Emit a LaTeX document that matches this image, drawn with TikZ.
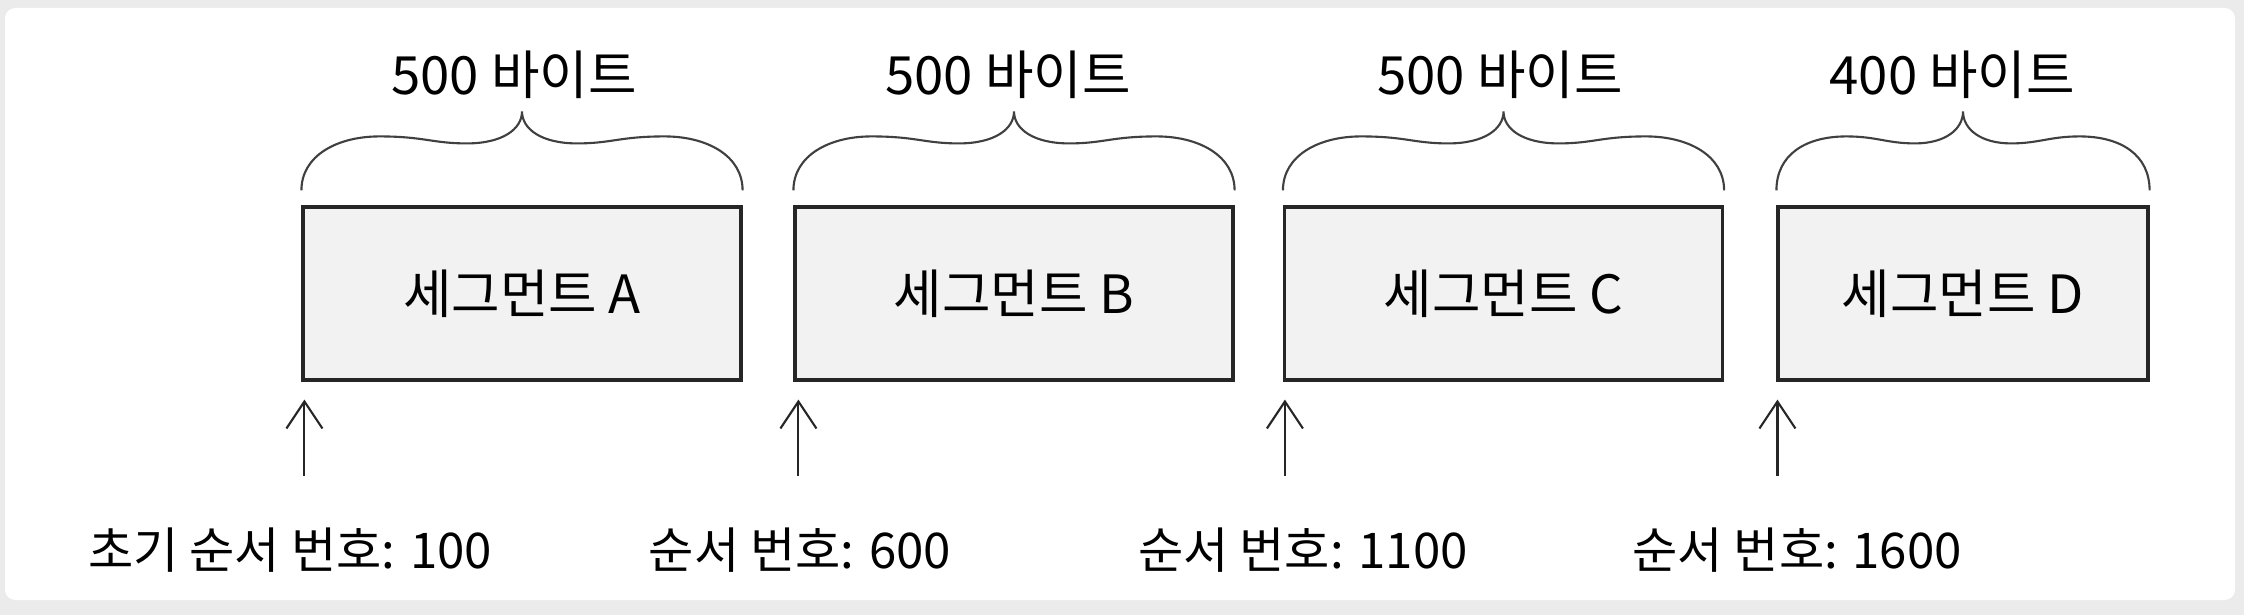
\documentclass[tikz,border=0pt]{standalone}
\usepackage{fontspec}
\setmainfont{Noto Sans CJK KR}
\usetikzlibrary{calc,arrows.meta}

\begin{document}
\begin{tikzpicture}[
  seg/.style={draw=black!85, line width=0.9pt, fill=black!5, minimum width=4.38cm, minimum height=1.73cm, inner sep=0pt, font=\fontsize{15}{18}\selectfont},
  bytes/.style={font=\fontsize{15}{18}\selectfont, inner sep=0pt},
  seqno/.style={font=\fontsize{14}{17}\selectfont, inner sep=0pt},
  span/.style={line width=0.6pt, black!75},
  seqarrow/.style={-{Straight Barb[length=2.7mm, width=3.6mm]}, line width=0.6pt, black!85}]
\useasboundingbox (0,0) rectangle (22.44,6.15);
\fill[black!8] (0,0) rectangle (22.44,6.15);
\fill[white, rounded corners=3pt] (0.05,0.15) rectangle (22.35,6.07);
% segments
\node[seg] (SA) at (5.22,3.215) {세그먼트 A};
\node[seg] (SB) at (10.14,3.215) {세그먼트 B};
\node[seg] (SC) at (15.035,3.215) {세그먼트 C};
\node[seg, minimum width=3.70cm] (SD) at (19.63,3.215) {세그먼트 D};
% sizes
\draw[span] ($(SA.north west)+(0,0.15)$) .. controls +(0,0.35) and +(-0.42,0) .. ($(SA.north west)+(0.78,0.69)$) .. controls +(0.45,0) and +(-0.35,0) .. ($(SA.north)+(-0.55,0.62)$) .. controls +(0.35,0) and +(0,-0.18) .. ($(SA.north)+(0,0.94)$) .. controls +(0,-0.18) and +(-0.35,0) .. ($(SA.north)+(0.55,0.62)$) .. controls +(0.35,0) and +(-0.45,0) .. ($(SA.north east)+(-0.78,0.69)$) .. controls +(0.42,0) and +(0,0.35) .. ($(SA.north east)+(0,0.15)$);
\draw[span] ($(SB.north west)+(0,0.15)$) .. controls +(0,0.35) and +(-0.42,0) .. ($(SB.north west)+(0.78,0.69)$) .. controls +(0.45,0) and +(-0.35,0) .. ($(SB.north)+(-0.55,0.62)$) .. controls +(0.35,0) and +(0,-0.18) .. ($(SB.north)+(0,0.94)$) .. controls +(0,-0.18) and +(-0.35,0) .. ($(SB.north)+(0.55,0.62)$) .. controls +(0.35,0) and +(-0.45,0) .. ($(SB.north east)+(-0.78,0.69)$) .. controls +(0.42,0) and +(0,0.35) .. ($(SB.north east)+(0,0.15)$);
\draw[span] ($(SC.north west)+(0,0.15)$) .. controls +(0,0.35) and +(-0.42,0) .. ($(SC.north west)+(0.78,0.69)$) .. controls +(0.45,0) and +(-0.35,0) .. ($(SC.north)+(-0.55,0.62)$) .. controls +(0.35,0) and +(0,-0.18) .. ($(SC.north)+(0,0.94)$) .. controls +(0,-0.18) and +(-0.35,0) .. ($(SC.north)+(0.55,0.62)$) .. controls +(0.35,0) and +(-0.45,0) .. ($(SC.north east)+(-0.78,0.69)$) .. controls +(0.42,0) and +(0,0.35) .. ($(SC.north east)+(0,0.15)$);
\draw[span] ($(SD.north west)+(0,0.15)$) .. controls +(0,0.35) and +(-0.42,0) .. ($(SD.north west)+(0.70,0.69)$) .. controls +(0.30,0) and +(-0.28,0) .. ($(SD.north)+(-0.48,0.62)$) .. controls +(0.30,0) and +(0,-0.18) .. ($(SD.north)+(0,0.94)$) .. controls +(0,-0.18) and +(-0.30,0) .. ($(SD.north)+(0.48,0.62)$) .. controls +(0.28,0) and +(-0.30,0) .. ($(SD.north east)+(-0.70,0.69)$) .. controls +(0.42,0) and +(0,0.35) .. ($(SD.north east)+(0,0.15)$);
\node[bytes] (BA) at (5.14,5.40) {500 바이트};
\node[bytes] (BB) at (10.08,5.40) {500 바이트};
\node[bytes] (BC) at (15.00,5.40) {500 바이트};
\node[bytes] (BD) at (19.52,5.40) {400 바이트};
% sequence numbers
\node[seqno] (LA) at (2.90,0.65) {초기 순서 번호: 100};
\node[seqno] (LB) at (8.00,0.65) {순서 번호: 600};
\node[seqno] (LC) at (13.03,0.65) {순서 번호: 1100};
\node[seqno] (LD) at (17.97,0.65) {순서 번호: 1600};
\draw[seqarrow] ($(SA.south west)+(0.03,-0.94)$) -- ($(SA.south west)+(0.03,-0.18)$);
\draw[seqarrow] ($(SB.south west)+(0.05,-0.94)$) -- ($(SB.south west)+(0.05,-0.18)$);
\draw[seqarrow] ($(SC.south west)+(0.02,-0.94)$) -- ($(SC.south west)+(0.02,-0.18)$);
\draw[seqarrow] ($(SD.south west)+(0.01,-0.94)$) -- ($(SD.south west)+(0.01,-0.18)$);
\end{tikzpicture}
\end{document}
